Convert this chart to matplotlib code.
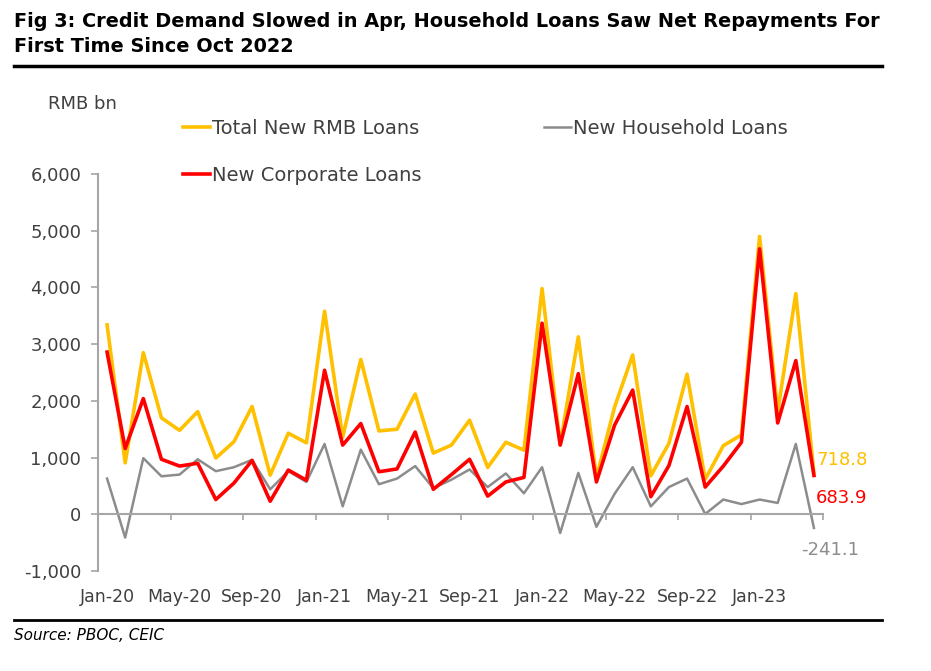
import numpy as np
import matplotlib
matplotlib.use("Agg")
import matplotlib.pyplot as plt
from matplotlib.lines import Line2D

# monthly new loans, RMB bn, Jan-20 .. Apr-23
months = ["Jan-20", "Feb-20", "Mar-20", "Apr-20", "May-20", "Jun-20", "Jul-20", "Aug-20",
          "Sep-20", "Oct-20", "Nov-20", "Dec-20", "Jan-21", "Feb-21", "Mar-21", "Apr-21",
          "May-21", "Jun-21", "Jul-21", "Aug-21", "Sep-21", "Oct-21", "Nov-21", "Dec-21",
          "Jan-22", "Feb-22", "Mar-22", "Apr-22", "May-22", "Jun-22", "Jul-22", "Aug-22",
          "Sep-22", "Oct-22", "Nov-22", "Dec-22", "Jan-23", "Feb-23", "Mar-23", "Apr-23"]
total = [3340, 906, 2850, 1700, 1480, 1810, 992, 1280, 1900, 690, 1430, 1260,
         3580, 1360, 2730, 1470, 1500, 2120, 1080, 1220, 1660, 826, 1270, 1130,
         3980, 1230, 3130, 645, 1890, 2810, 679, 1250, 2470, 615, 1210, 1400,
         4900, 1810, 3890, 718.8]
household = [630, -410, 990, 670, 700, 970, 760, 830, 960, 440, 760, 570,
             1240, 140, 1140, 530, 630, 850, 460, 610, 790, 480, 720, 370,
             830, -330, 730, -220, 360, 830, 140, 480, 630, 5, 260, 180,
             260, 200, 1240, -241.1]
corporate = [2860, 1160, 2040, 970, 850, 900, 260, 550, 950, 230, 780, 600,
             2540, 1220, 1600, 750, 800, 1450, 440, 700, 970, 320, 570, 650,
             3370, 1220, 2480, 570, 1570, 2190, 310, 860, 1900, 480, 850, 1270,
             4680, 1610, 2710, 683.9]

YELLOW = "#FFC000"
RED = "#FF0000"
GREY = "#8C8C8C"
AXIS = "#A6A6A6"
TXT = "#404040"

W, H = 931, 671
fig = plt.figure(figsize=(W / 100, H / 100), dpi=100)
ax = fig.add_axes([98 / W, 100 / H, 725 / W, 397 / H])

x = np.arange(len(months))
l1, = ax.plot(x, total, color=YELLOW, lw=2.6, label="Total New RMB Loans")
l2, = ax.plot(x, household, color=GREY, lw=1.8, label="New Household Loans")
l3, = ax.plot(x, corporate, color=RED, lw=2.6, label="New Corporate Loans")

ax.set_xlim(-0.5, len(months) - 0.5)
ax.set_ylim(-1000, 6000)

for s in ["top", "right"]:
    ax.spines[s].set_visible(False)
ax.spines["left"].set_color(AXIS)
ax.spines["left"].set_linewidth(1.5)
ax.spines["bottom"].set_position(("data", 0))
ax.spines["bottom"].set_color(AXIS)
ax.spines["bottom"].set_linewidth(1.5)

ax.set_xticks(np.arange(-0.5, len(months), 4))
ax.tick_params(axis="x", length=4, width=1.2, color=AXIS, labelbottom=False)

ax.set_yticks(np.arange(-1000, 6001, 1000))
ax.set_yticklabels([f"{v:,}" for v in range(-1000, 6001, 1000)])
ax.tick_params(axis="y", length=5, width=1.2, color=AXIS, pad=7, labelsize=13, labelcolor=TXT)

sec = ax.secondary_xaxis("bottom")
sec.set_xticks(x[::4], [months[i] for i in x[::4]])
sec.tick_params(length=0, pad=12, labelsize=12.5, labelcolor=TXT)
sec.spines["bottom"].set_visible(False)

# end-point labels
ax.annotate(f"{total[-1]}", (x[-1], total[-1]), xytext=(1.5, 9.5), textcoords="offset points",
            ha="left", va="center", fontsize=13, color=YELLOW)
ax.annotate(f"{corporate[-1]}", (x[-1], corporate[-1]), xytext=(1.5, -16), textcoords="offset points",
            ha="left", va="center", fontsize=13, color=RED)
ax.annotate(f"{household[-1]}", (x[-1], household[-1]), xytext=(-9, -16), textcoords="offset points",
            ha="left", va="center", fontsize=13, color=GREY)

ax.legend(handles=[l1, l3, l2], ncol=2, loc="upper left",
          bbox_to_anchor=(173 / W, 1 - 109 / H), bbox_transform=fig.transFigure,
          frameon=False, fontsize=14, handlelength=1.4, handletextpad=0.1,
          columnspacing=6.3, labelspacing=1.43, borderpad=0, labelcolor=TXT)

fig.text(48 / W, 1 - 104 / H, "RMB bn", va="center", fontsize=13, color=TXT)

fig.text(14 / W, 1 - 12 / H,
         "Fig 3: Credit Demand Slowed in Apr, Household Loans Saw Net Repayments For\n"
         "First Time Since Oct 2022",
         va="top", ha="left", fontsize=13.9, fontweight="bold", linespacing=1.4)
fig.add_artist(Line2D([14 / W, 882 / W], [1 - 66 / H] * 2, transform=fig.transFigure,
                      color="black", lw=2.5))
fig.add_artist(Line2D([14 / W, 882 / W], [1 - 620 / H] * 2, transform=fig.transFigure,
                      color="black", lw=2))
fig.text(14 / W, 1 - 636 / H, "Source: PBOC, CEIC", va="center", ha="left",
         fontsize=11, style="italic")

fig.savefig("out.png", dpi=100)
